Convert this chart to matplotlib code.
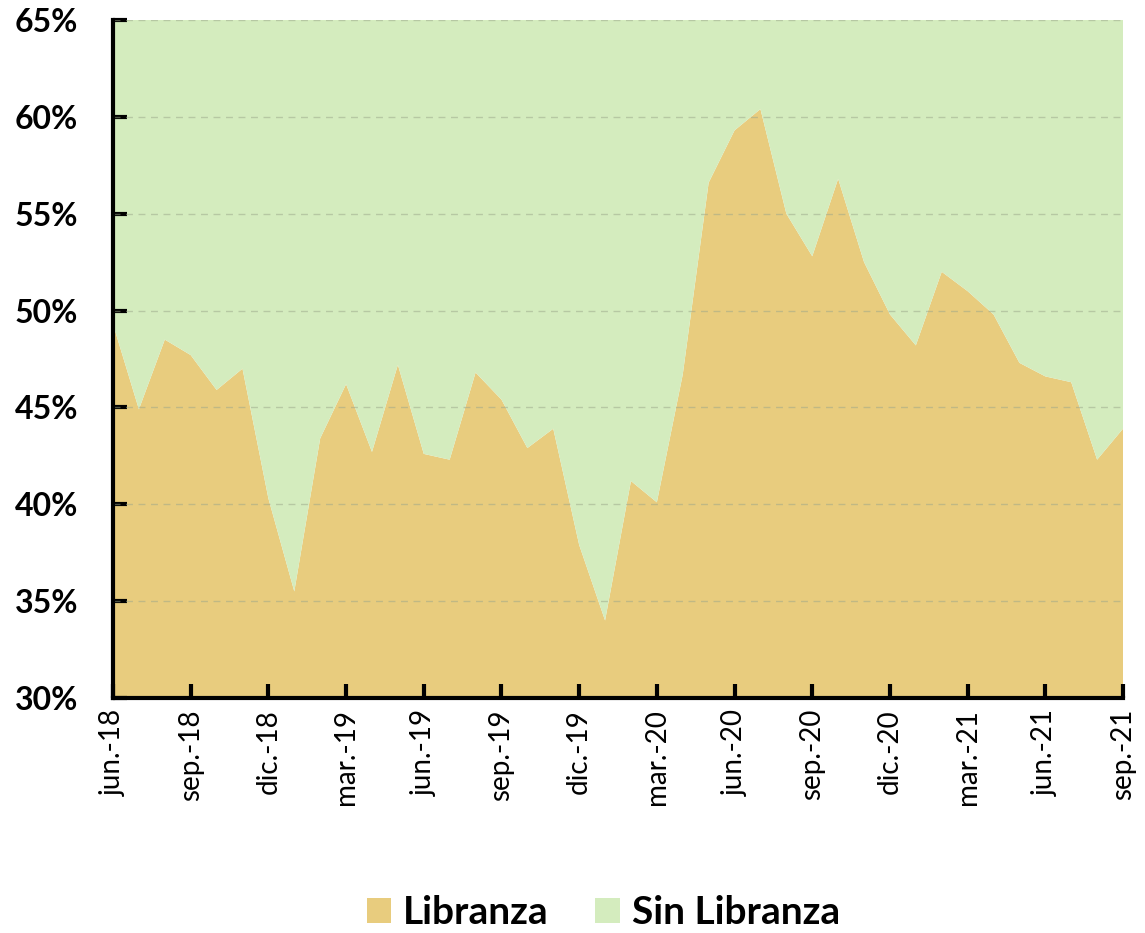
import numpy as np
import matplotlib
matplotlib.use("Agg")
import matplotlib.pyplot as plt
from matplotlib.patches import Patch

# Monthly share of loans, jun-2018 to sep-2021 (%)
meses = [
    "jun.-18", "jul.-18", "ago.-18", "sep.-18", "oct.-18", "nov.-18", "dic.-18",
    "ene.-19", "feb.-19", "mar.-19", "abr.-19", "may.-19", "jun.-19", "jul.-19",
    "ago.-19", "sep.-19", "oct.-19", "nov.-19", "dic.-19",
    "ene.-20", "feb.-20", "mar.-20", "abr.-20", "may.-20", "jun.-20", "jul.-20",
    "ago.-20", "sep.-20", "oct.-20", "nov.-20", "dic.-20",
    "ene.-21", "feb.-21", "mar.-21", "abr.-21", "may.-21", "jun.-21", "jul.-21",
    "ago.-21", "sep.-21",
]
libranza = [
    49.3, 44.9, 48.5, 47.7, 45.9, 47.0, 40.3,
    35.5, 43.4, 46.2, 42.7, 47.2, 42.6, 42.3,
    46.8, 45.4, 42.9, 43.9, 37.9,
    34.0, 41.2, 40.1, 46.7, 56.6, 59.3, 60.4,
    55.0, 52.8, 56.8, 52.5, 49.8,
    48.2, 52.0, 51.0, 49.8, 47.3, 46.6, 46.3,
    42.3, 43.9,
]
sin_libranza = [100 - v for v in libranza]

COLOR_LIB = "#E8CC7E"
COLOR_SIN = "#D4ECBE"

x = np.arange(len(meses))

fig = plt.figure(figsize=(11.45, 9.33), dpi=100)
ax = fig.add_axes([0.0987, 0.2519, 0.8821, 0.7267])

ax.stackplot(x, libranza, sin_libranza, colors=[COLOR_LIB, COLOR_SIN],
             linewidth=0)

ax.set_xlim(0, len(meses) - 1)
ax.set_ylim(30, 65)

yticks = np.arange(30, 66, 5)
ax.set_yticks(yticks)
ax.set_yticklabels([f"{t}%" for t in yticks], fontsize=23, fontweight="bold",
                   family="Lato")
for t in yticks[1:]:
    ax.axhline(t, color="#9aa58a", linestyle=(0, (5, 4)), linewidth=1,
               alpha=0.5, zorder=3)

xt = x[::3]
ax.set_xticks(xt)
ax.set_xticklabels([meses[i] for i in xt], rotation=90, fontsize=20,
                   family="Lato")

for s in ["top", "right"]:
    ax.spines[s].set_visible(False)
for s in ["left", "bottom"]:
    ax.spines[s].set_linewidth(3)
    ax.spines[s].set_zorder(5)

ax.tick_params(axis="both", direction="in", length=10, width=3, color="black")
ax.tick_params(axis="y", pad=25)
ax.tick_params(axis="x", pad=8)

handles = [Patch(facecolor=COLOR_LIB, label="Libranza"),
           Patch(facecolor=COLOR_SIN, label="Sin Libranza")]
fig.legend(handles=handles, loc="center", bbox_to_anchor=(0.527, 0.022),
           ncol=2, frameon=False, handlelength=0.62, handleheight=0.62,
           columnspacing=1.2, handletextpad=0.32,
           prop={"family": "Lato", "weight": "bold", "size": 28})

fig.savefig("out.png", dpi=100)
